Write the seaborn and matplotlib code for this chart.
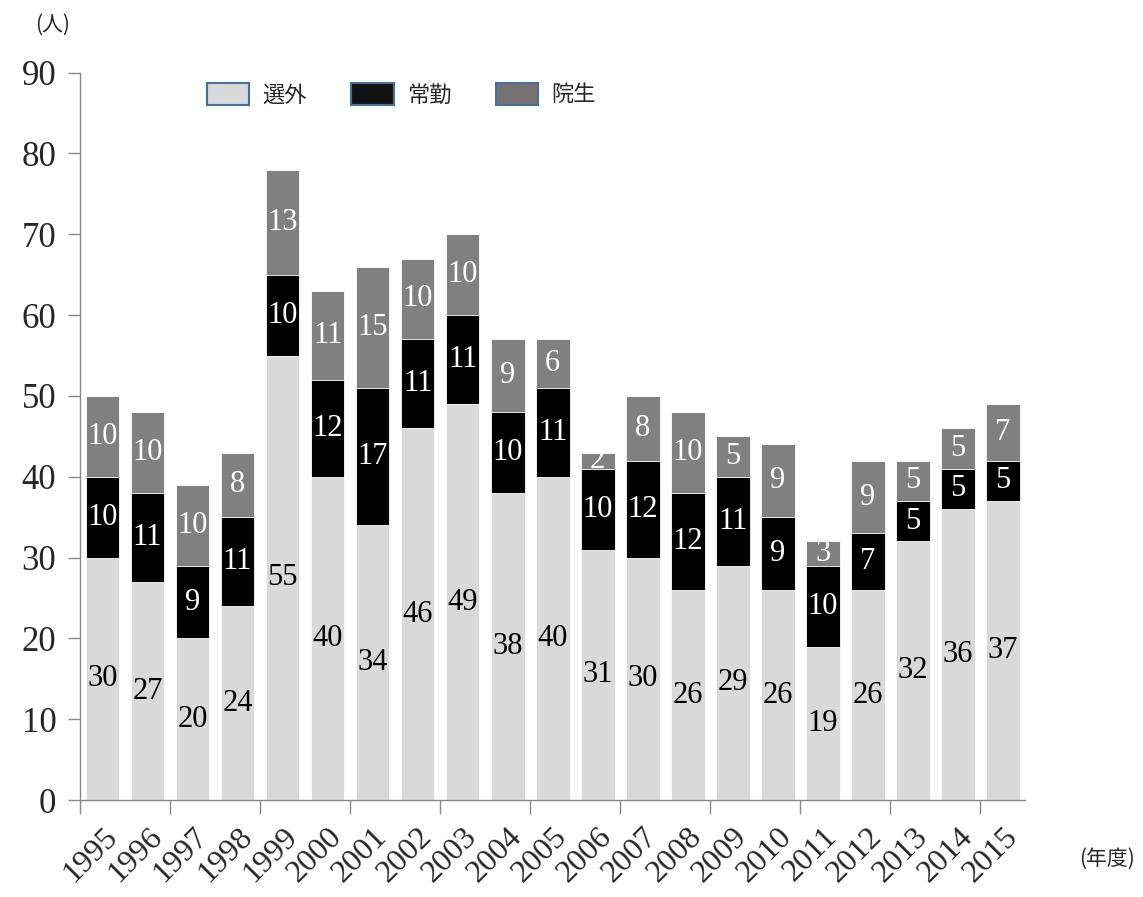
import numpy as np
import pandas as pd
import seaborn as sns
import matplotlib.pyplot as plt
from matplotlib.patches import Patch

years = [str(y) for y in range(1995, 2016)]
senngai = [30, 27, 20, 24, 55, 40, 34, 46, 49, 38, 40, 31, 30, 26, 29, 26, 19, 26, 32, 36, 37]
joukin = [10, 11, 9, 11, 10, 12, 17, 11, 11, 10, 11, 10, 12, 12, 11, 9, 10, 7, 5, 5, 5]
insei = [10, 10, 10, 8, 13, 11, 15, 10, 10, 9, 6, 2, 8, 10, 5, 9, 3, 9, 5, 5, 7]
series_names = ['選外', '常勤', '院生']
colors = ['#d9d9d9', '#000000', '#808080']
legend_colors = ['#d9d9d9', '#111111', '#767171']

sns.set_style('white')
plt.rcParams['font.family'] = ['Liberation Serif', 'Noto Sans CJK JP']

df = pd.DataFrame({'year': years, '選外': senngai, '常勤': joukin, '院生': insei})
df['s1'] = df['選外']
df['s2'] = df['選外'] + df['常勤']
df['s3'] = df['s2'] + df['院生']

fig = plt.figure(figsize=(11.43, 8.97), dpi=100)
ax = fig.add_axes([0.07, 0.108, 0.827, 0.811])

# stack by overdrawing cumulative totals
for col, c in zip(['s3', 's2', 's1'], colors[::-1]):
    sns.barplot(data=df, x='year', y=col, color=c, width=0.75, ax=ax,
                saturation=1, edgecolor='white', linewidth=0.6)

# segment labels
for i in range(len(years)):
    bottoms = [0, senngai[i], senngai[i] + joukin[i]]
    vals = [senngai[i], joukin[i], insei[i]]
    for b, v, tc in zip(bottoms, vals, ['black', 'white', 'white']):
        ax.text(i, b + v / 2, str(v), ha='center', va='center', color=tc, fontsize=22)

ax.set_ylim(0, 90)
ax.set_xlim(-0.5, len(years) - 0.5)
ax.set_yticks(range(0, 91, 10))
ax.set_xticks(range(len(years)))
ax.set_xticklabels(years, rotation=45, ha='right', rotation_mode='anchor', fontsize=23)
ax.tick_params(axis='y', labelsize=25, length=9, width=1, color='#888888', pad=8, left=True)
ax.tick_params(axis='x', length=0, pad=16)
# minor ticks every two categories on the category boundaries
ax.set_xticks(np.arange(-0.5, len(years) - 1, 2), minor=True)
ax.tick_params(axis='x', which='minor', length=10, width=1, color='#888888',
               direction='out', bottom=True)
ax.set_xlabel('')
ax.set_ylabel('')
sns.despine(ax=ax)
for s in ['left', 'bottom']:
    ax.spines[s].set_color('#888888')
    ax.spines[s].set_linewidth(1)

handles = [Patch(facecolor=c, edgecolor='#41719c', linewidth=1.5) for c in legend_colors]
ax.legend(handles, series_names, loc='center left', bbox_to_anchor=(0.113, 0.97), ncol=3,
          frameon=False, prop={'family': 'Noto Sans CJK JP', 'size': 16},
          handlelength=1.9, handleheight=1.2, columnspacing=2.0, handletextpad=0.6)

fig.text(0.031, 0.972, '(人)', fontsize=15, family='Noto Sans CJK JP', ha='left', va='center')
fig.text(0.944, 0.043, '(年度)', fontsize=15, family='Noto Sans CJK JP', ha='left', va='center')

fig.savefig('out.png', dpi=100)
